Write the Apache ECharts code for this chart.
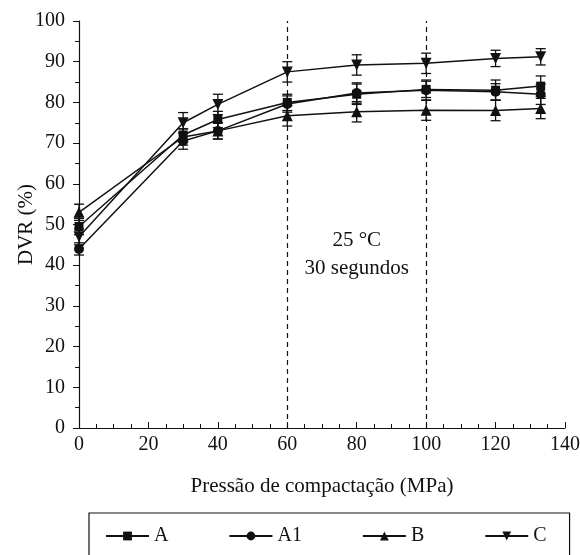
<!DOCTYPE html>
<html><head><meta charset="utf-8">
<script src="https://cdn.jsdelivr.net/npm/echarts@6/dist/echarts.min.js"></script>
<style>html,body{margin:0;padding:0;background:#fff}#c{width:580px;height:555px}</style>
</head><body><div id="c"></div>
<script>
const pressures = [0, 30, 40, 60, 80, 100, 120, 133];
const seriesNames = ['A', 'A1', 'B', 'C'];
const valA  = [49.5, 72.0, 75.8, 80.0, 82.0, 83.2, 83.0, 84.0];
const valA1 = [44.0, 70.5, 73.0, 79.6, 82.3, 83.0, 82.6, 82.0];
const valB  = [53.0, 71.5, 73.0, 76.7, 77.7, 78.1, 78.0, 78.5];
const valC  = [47.0, 75.0, 79.5, 87.5, 89.2, 89.6, 90.8, 91.2];
const errA  = [2.0, 1.5, 2.0, 2.0, 2.5, 2.0, 2.5, 2.5];
const errA1 = [1.5, 2.0, 2.0, 2.0, 2.5, 2.5, 2.0, 2.5];
const errB  = [2.0, 2.0, 2.0, 2.5, 2.5, 2.5, 2.5, 2.5];
const errC  = [2.0, 2.5, 2.5, 2.5, 2.5, 2.5, 2.0, 2.0];
const refLines = [60, 100];
const annotation = ['25 °C', '30 segundos'];
const xTicks = [0, 20, 40, 60, 80, 100, 120, 140];
const yTicks = [0, 10, 20, 30, 40, 50, 60, 70, 80, 90, 100];

const FONT = 'Liberation Serif';
const vals = [valA, valA1, valB, valC];
const errs = [errA, errA1, errB, errC];
const symbols = ['rect', 'circle', 'triangle', 'triangle'];
const symSizes = [9, 10, 11, 11];
const rot = [0, 0, 0, 180];

const chart = echarts.init(document.getElementById('c'));
const series = [];
seriesNames.forEach((n, i) => {
  series.push({
    name: n, type: 'line',
    data: pressures.map((p, j) => [p, vals[i][j]]),
    symbol: symbols[i], symbolSize: symSizes[i], symbolRotate: rot[i],
    showAllSymbol: true,
    lineStyle: {color: '#111', width: 1.5},
    itemStyle: {color: '#111'},
    z: 3
  });
  series.push({
    name: n + '_err', type: 'custom',
    data: pressures.map((p, j) => [p, vals[i][j] - errs[i][j], vals[i][j] + errs[i][j]]),
    renderItem: function (params, api) {
      const x = api.value(0);
      const lo = api.coord([x, api.value(1)]);
      const hi = api.coord([x, api.value(2)]);
      const w = 5;
      const st = {stroke: '#111', lineWidth: 1.3};
      return {type: 'group', children: [
        {type: 'line', shape: {x1: lo[0], y1: lo[1], x2: hi[0], y2: hi[1]}, style: st},
        {type: 'line', shape: {x1: lo[0]-w, y1: lo[1], x2: lo[0]+w, y2: lo[1]}, style: st},
        {type: 'line', shape: {x1: hi[0]-w, y1: hi[1], x2: hi[0]+w, y2: hi[1]}, style: st}
      ]};
    },
    z: 2, silent: true
  });
});
series.push({
  name: 'ref', type: 'line', data: [], symbol: 'none',
  markLine: {
    silent: true, symbol: ['none', 'none'],
    lineStyle: {color: '#111', type: [5, 4], width: 1.2},
    label: {show: false},
    data: refLines.map(v => ({xAxis: v}))
  },
  markPoint: {
    symbol: 'circle', symbolSize: 0,
    label: {show: true, formatter: annotation.join('\n'), color: '#111', fontFamily: FONT, fontSize: 21, lineHeight: 28, position: 'inside'},
    data: [{coord: [80, 42.7]}]
  }
});

chart.setOption({
  animation: false,
  textStyle: {fontFamily: FONT},
  grid: {left: 79, right: 15, top: 21, bottom: 127, containLabel: false, outerBoundsMode: 'none'},
  legend: {
    data: seriesNames,
    left: 89, top: 513,
    padding: [13, 23, 22, 16],
    borderColor: '#111', borderWidth: 1.2,
    itemWidth: 43, itemHeight: 11, itemGap: 60,
    formatter: '{t|{name}}',
    textStyle: {fontFamily: FONT, fontSize: 20, color: '#111',
      rich: {t: {width: 26, fontFamily: FONT, fontSize: 20, color: '#111'}}}
  },
  xAxis: {
    type: 'value', min: 0, max: 140, interval: 20,
    name: 'Pressão de compactação (MPa)', nameLocation: 'middle', nameGap: 48,
    nameTextStyle: {fontFamily: FONT, fontSize: 21, color: '#111'},
    axisLine: {lineStyle: {color: '#111', width: 1.2}},
    axisTick: {inside: true, length: 6, lineStyle: {color: '#111'}},
    minorTick: {show: true, splitNumber: 4, length: 4, lineStyle: {color: '#111'}},
    axisLabel: {fontFamily: FONT, fontSize: 20, color: '#111', margin: 7},
    splitLine: {show: false}
  },
  yAxis: {
    type: 'value', min: 0, max: 100, interval: 10,
    name: 'DVR (%)', nameLocation: 'middle', nameGap: 42, nameRotate: 90, nameMoveOverlap: false,
    nameTextStyle: {fontFamily: FONT, fontSize: 21, color: '#111'},
    axisLine: {show: true, lineStyle: {color: '#111', width: 1.2}},
    axisTick: {show: true, length: 6, lineStyle: {color: '#111'}},
    minorTick: {show: true, splitNumber: 2, length: 4, lineStyle: {color: '#111'}},
    axisLabel: {fontFamily: FONT, fontSize: 20, color: '#111', margin: 14},
    splitLine: {show: false}
  },
  series: series
});
</script></body></html>
